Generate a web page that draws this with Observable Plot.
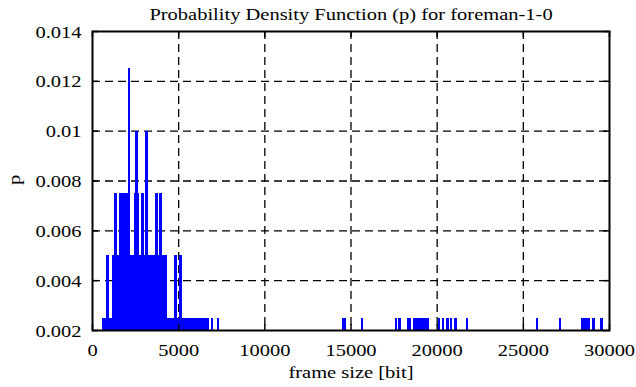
<!DOCTYPE html>
<html>
<head>
<meta charset="utf-8">
<script src="https://cdn.jsdelivr.net/npm/d3@7"></script>
<script src="https://cdn.jsdelivr.net/npm/@observablehq/plot@0.6"></script>
<style>
  html, body { margin: 0; padding: 0; background: #fff; }
  svg { display: block; }
  svg text { font-family: "Liberation Serif", "Times New Roman", serif !important; }
</style>
</head>
<body>
<script>
const title = "Probability Density Function (p) for foreman-1-0";
const xLabel = "frame size [bit]";
const yLabel = "p";

const xTicks = [0, 5000, 10000, 15000, 20000, 25000, 30000];
const yTicks = [0.002, 0.004, 0.006, 0.008, 0.010, 0.012, 0.014];
const yTickLabels = ["0.002", "0.004", "0.006", "0.008", "0.01", "0.012", "0.014"];

// frame size (bit) of each impulse and its probability p
const frameSize = [
  630, 780, 862, 960, 1060, 1190, 1337, 1430, 1510, 1590, 1680, 1770, 1860, 1950, 2035,
  2110, 2190, 2280, 2370, 2455, 2560, 2640, 2720, 2810, 2907, 3010, 3140, 3200, 3270,
  3370, 3470, 3570, 3650, 3721, 3837, 3954, 4050, 4150, 4250, 4350, 4450, 4550, 4650,
  4740, 4816, 4910, 5010, 5116, 5200, 5300, 5400, 5500, 5600, 5700, 5800, 5900, 6000,
  6100, 6200, 6300, 6400, 6500, 6600, 6700, 6920, 7270,
  14550, 14650, 15630, 17610, 17820, 18300, 18430, 18650, 18750, 18850, 18950, 19050,
  19150, 19250, 19350, 19470, 20100, 20330, 20600, 20820, 21075, 21735, 25800, 27140,
  28430, 28555, 28680, 28790, 29070, 29525
];
const p = [
  0.0025, 0.0025, 0.005, 0.0025, 0.0025, 0.005, 0.0075, 0.005, 0.005, 0.0075, 0.0075, 0.0075, 0.0075, 0.0075, 0.0075,
  0.0125, 0.005, 0.005, 0.005, 0.0075, 0.01, 0.0075, 0.005, 0.005, 0.0075, 0.005, 0.01, 0.0025, 0.005,
  0.005, 0.005, 0.005, 0.005, 0.0075, 0.005, 0.0075, 0.005, 0.005, 0.005, 0.0025, 0.0025, 0.0025, 0.0025,
  0.0025, 0.005, 0.0025, 0.0025, 0.005, 0.0025, 0.0025, 0.0025, 0.0025, 0.0025, 0.0025, 0.0025, 0.0025, 0.0025,
  0.0025, 0.0025, 0.0025, 0.0025, 0.0025, 0.0025, 0.0025, 0.0025, 0.0025,
  0.0025, 0.0025, 0.0025, 0.0025, 0.0025, 0.0025, 0.0025, 0.0025, 0.0025, 0.0025, 0.0025, 0.0025,
  0.0025, 0.0025, 0.0025, 0.0025, 0.0025, 0.0025, 0.0025, 0.0025, 0.0025, 0.0025, 0.0025, 0.0025,
  0.0025, 0.0025, 0.0025, 0.0025, 0.0025, 0.0025
];

const W = 636, H = 387;
const mL = 92, mR = 27, mT = 31, mB = 57;
const innerW = W - mL - mR, innerH = H - mT - mB;
const tickLen = 6;
const font = "'Liberation Serif', 'Times New Roman', serif";
const fs = 16;

const idx = frameSize.map((_, i) => i);
const innerX = xTicks.slice(1, -1);
const innerY = yTicks.slice(1, -1);

const chart = Plot.plot({
  width: W,
  height: H,
  marginLeft: mL,
  marginRight: mR,
  marginTop: mT,
  marginBottom: mB,
  style: { fontFamily: font, fontSize: fs + "px", color: "black", background: "white" },
  x: { domain: [xTicks[0], xTicks[xTicks.length - 1]] },
  y: { domain: [yTicks[0], yTicks[yTicks.length - 1]] },
  marks: [
    Plot.gridX(innerX, { stroke: "black", strokeOpacity: 1, strokeWidth: 1.3, strokeDasharray: "8,5" }),
    Plot.gridY(innerY, { stroke: "black", strokeOpacity: 1, strokeWidth: 1.3, strokeDasharray: "8,5" }),
    Plot.ruleX(idx, { x: i => frameSize[i], y1: yTicks[0], y2: i => p[i], stroke: "#0000ff",
      strokeWidth: 2.4, shapeRendering: "crispEdges" }),
    Plot.tickX(xTicks, { x: d => d, insetTop: innerH - tickLen, stroke: "black", strokeWidth: 1.5 }),
    Plot.tickX(xTicks, { x: d => d, insetBottom: innerH - tickLen, stroke: "black", strokeWidth: 1.5 }),
    Plot.tickY(yTicks, { y: d => d, insetRight: innerW - tickLen, stroke: "black", strokeWidth: 1.5 }),
    Plot.tickY(yTicks, { y: d => d, insetLeft: innerW - tickLen, stroke: "black", strokeWidth: 1.5 }),
    Plot.frame({ stroke: "black", strokeWidth: 2 }),
    Plot.axisX(xTicks, { tickSize: 0, tickPadding: 14, fontSize: fs, fontFamily: font, label: null,
      tickFormat: d => String(d) }),
    Plot.axisY(yTicks, { tickSize: 0, tickPadding: 11, fontSize: fs, fontFamily: font, label: null, dy: 1,
      tickFormat: d => yTickLabels[yTicks.indexOf(d)] }),
    Plot.text([title], { text: d => d, frameAnchor: "top", dy: -23, fontSize: fs, fontFamily: font, fill: "black" }),
    Plot.text([xLabel], { text: d => d, frameAnchor: "bottom", dy: 47, fontSize: fs, fontFamily: font, fill: "black" }),
    Plot.text([yLabel], { text: d => d, frameAnchor: "left", dx: -78, dy: 4, rotate: -90, fontSize: fs, fontFamily: font, fill: "black" })
  ]
});

document.body.append(chart);

// the reference's lettering is horizontally stretched; mimic it
const stretch = 1.28;
chart.querySelectorAll("text").forEach(t => {
  t.style.fontFamily = font;
  const L = t.getComputedTextLength();
  if (L > 0) {
    t.setAttribute("textLength", (L * stretch).toFixed(2));
    t.setAttribute("lengthAdjust", "spacingAndGlyphs");
  }
});
</script>
</body>
</html>
